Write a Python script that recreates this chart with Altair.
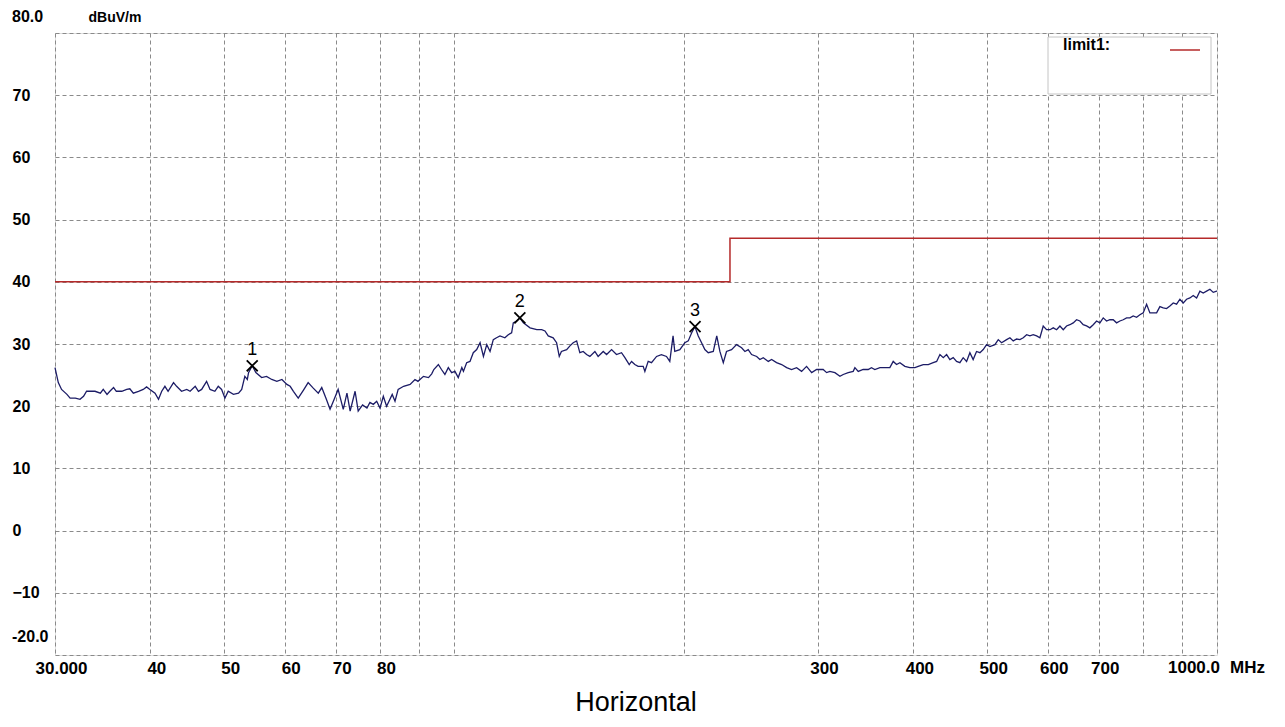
import altair as alt
import pandas as pd

freq = [
    30.0, 30.3, 30.6, 31.1, 31.4, 31.9, 32.35, 32.7, 33.0, 33.3, 33.85, 34.4, 34.7, 35.1, 35.4, 35.8,
    36.1, 36.7, 37.25, 37.6, 38.0, 38.6, 39.15, 39.55, 39.95, 40.57, 41.0, 41.4, 41.8, 42.2, 42.9,
    43.3, 43.95, 44.65, 45.1, 45.8, 46.25, 46.7, 47.4, 47.9, 48.6, 49.1, 49.6, 50.1, 50.6, 51.4,
    52.2, 52.7, 53.2, 53.6, 53.8,
    54.4, 55.0, 55.97, 56.8, 57.7, 58.6, 59.5, 60.4, 61.0, 61.6, 62.5, 63.5, 64.4, 65.4, 66.4, 67.1,
    68.0, 68.8, 69.6, 70.5, 71.6, 72.4, 73.1, 74.2, 74.9, 75.9, 76.9, 77.6, 78.4, 79.2, 80.0, 80.8,
    81.6, 83.0, 83.7, 84.5, 85.9, 87.6, 88.9, 89.7, 91.2, 92.6, 93.5, 94.1, 95.4,
    96.3, 97.3, 98.3, 99.3, 100.3, 101.3, 102.4, 102.9, 103.9, 104.95, 106.0, 107.1, 108.2, 109.3,
    110.4, 111.5, 112.6, 113.7, 114.9, 116.6, 117.8, 119.0, 119.6, 120.8, 122.0, 123.3, 125.8,
    128.4, 130.3, 131.6, 132.9, 134.9, 136.3, 137.4, 138.3, 140.5, 141.9, 143.3, 144.8, 146.2,
    147.7, 149.2, 150.7, 153.0, 154.5, 156.9, 158.5, 160.9, 163.3, 165.8, 167.5, 169.7,
    170.9, 172.6, 174.3, 177.0, 177.9, 179.7, 181.5, 184.3, 187.0, 189.9, 191.8, 193.7, 194.7,
    197.7, 200.7, 202.8, 204.9, 206.9, 209.0, 211.1, 213.2, 215.4, 218.7, 221.0, 223.1, 225.4,
    227.6, 231.1, 234.6, 238.2, 240.6, 243.0, 245.5, 249.3, 251.7, 254.3, 258.2, 260.8, 264.7,
    268.8, 272.9, 277.0, 281.2, 285.5, 289.8, 294.3, 298.7,
    301.7, 304.7, 307.9, 310.9, 315.7, 320.5, 323.7, 328.6, 333.6, 335.3, 338.7, 343.8, 349.0,
    352.5, 356.1, 361.6, 367.1, 372.6, 376.4, 380.2, 384.1, 389.9, 395.8, 401.9, 405.9, 412.1,
    418.4, 424.7, 429.1, 433.4, 437.8, 442.2, 446.6, 451.1, 455.7, 460.3, 464.9, 469.7, 474.4,
    479.1, 484.0, 489.0, 493.9, 498.9, 504.0, 511.6, 516.8, 522.0, 530.0, 535.3,
    540.7, 546.3, 551.7, 557.3, 563.0, 568.6, 574.3, 580.2, 586.0, 591.9, 597.9, 604.0, 610.1,
    616.3, 622.5, 628.8, 635.1, 641.5, 648.0, 654.6, 661.2, 667.8, 674.6, 681.4, 688.3, 695.3,
    702.3, 709.4, 716.6, 723.8, 731.1, 738.6, 746.0, 753.5, 761.2, 768.9, 776.6, 784.5, 792.4,
    800.4, 808.6, 816.7, 824.9, 833.4, 841.7, 850.2, 858.8, 867.5, 876.3, 885.2, 894.1, 903.1,
    912.3, 921.5, 930.8, 940.3, 949.7, 959.2, 969.1, 978.8, 988.8, 998.8, 1000.0,
]
level = [
    26.2, 23.8, 22.7, 21.9, 21.3, 21.3, 21.1, 21.6, 22.4, 22.4, 22.4, 22.1, 22.7, 21.9, 22.4, 23.0,
    22.4, 22.4, 22.7, 22.8, 22.1, 22.4, 22.7, 23.1, 22.7, 22.1, 21.1, 22.4, 23.2, 22.4, 23.8,
    23.2, 22.4, 22.7, 22.4, 23.2, 22.4, 22.7, 24.0, 22.7, 22.4, 23.2, 22.7, 21.3, 22.4, 21.9,
    22.1, 22.7, 24.8, 24.3, 25.4,
    26.5, 25.4, 24.6, 24.8, 24.3, 24.0, 24.3, 23.5, 23.2, 22.4, 21.3, 22.6, 23.8, 22.9, 22.1, 23.0,
    21.2, 19.5, 21.0, 22.7, 19.5, 22.1, 19.2, 22.4, 19.2, 20.2, 19.7, 20.6, 20.3, 20.8, 19.7, 21.6,
    20.0, 21.9, 20.8, 22.7, 23.2, 23.5, 24.3, 24.0, 24.8, 24.6, 25.2, 25.9, 26.7,
    25.9, 25.1, 26.2, 25.4, 25.6, 24.6, 26.2, 25.6, 27.0, 27.2, 28.6, 29.1, 30.2, 28.0,
    29.9, 28.8, 30.7, 31.0, 31.3, 31.0, 31.5, 31.8, 33.4, 33.7, 34.2, 33.4, 32.6,
    32.3, 32.3, 32.1, 31.3, 31.0, 30.2, 28.0, 28.8, 29.1, 29.7, 30.2, 30.5, 28.6,
    28.8, 28.3, 28.0, 28.8, 28.0, 28.8, 28.3, 29.1, 28.3, 28.6, 27.8, 26.7,
    27.2, 26.7, 26.4, 26.4, 25.6, 27.2, 27.0, 28.0, 28.3, 28.0, 27.2, 31.3, 28.8,
    29.1, 30.2, 30.5, 31.8, 32.8, 31.3, 30.2, 29.1, 28.6, 28.8, 31.3, 28.8, 27.0,
    28.8, 29.1, 29.9, 29.4, 28.8, 29.1, 28.3, 28.0, 27.5, 27.8, 27.2, 27.5, 27.0,
    26.7, 26.2, 25.9, 26.2, 25.6, 26.4, 25.4, 25.9,
    25.9, 25.9, 25.4, 25.6, 25.4, 24.8, 25.1, 25.4, 25.6, 26.2, 25.6, 25.9, 25.9,
    26.2, 25.9, 26.2, 26.2, 26.2, 27.2, 26.7, 27.0, 26.4, 26.2, 26.2, 26.4, 26.7,
    26.7, 27.0, 27.2, 28.3, 27.8, 28.3, 27.5, 27.8, 27.2, 27.0, 27.8, 27.2, 28.6,
    27.5, 28.8, 28.6, 29.1, 29.9, 29.6, 29.9, 30.7, 30.2, 30.7, 31.0,
    30.5, 30.8, 30.7, 31.0, 31.5, 31.3, 31.5, 31.3, 31.0, 32.9, 32.3, 32.3, 32.6,
    32.3, 32.9, 32.3, 32.9, 33.1, 33.4, 33.9, 33.7, 33.1, 32.9, 32.6, 33.1, 33.7,
    33.4, 34.2, 33.7, 33.9, 33.9, 33.4, 33.7, 33.9, 34.2, 34.2, 34.5, 34.3, 34.7,
    35.0, 36.4, 35.0, 35.0, 35.0, 36.0, 35.8, 35.7, 36.1, 36.6, 36.4, 37.2, 36.6,
    37.2, 37.4, 37.8, 37.4, 38.5, 38.2, 38.5, 38.8, 38.3, 38.5, 38.5,
]

# ---- limit line ----
limit_freq = [30, 230, 230, 1000]
limit_level = [40, 40, 47, 47]
limit_name = ["limit1", "limit1", "limit1", "limit1"]

# ---- markers ----
marker_freq = [54.4, 122, 207]
marker_level = [26.5, 34.2, 32.8]
marker_label = ["1", "2", "3"]

# ---- axis ticks ----
x_grid_values = [30, 40, 50, 60, 70, 80, 90, 100, 200, 300, 400, 500, 600, 700, 800, 900, 1000]
x_hidden_labels = [90, 100, 200, 800, 900, 1000]
y_grid_values = [-20, -10, 0, 10, 20, 30, 40, 50, 60, 70, 80]
y_top_label = ["80.0"]
y_bottom_label = ["-20.0"]
x_end_label = ["1000.0"]
x_unit = ["MHz"]

FONT = "Liberation Sans"
W, H = 1162, 622

trace_df = pd.DataFrame({"freq": freq, "level": level})
limit_df = pd.DataFrame({"freq": limit_freq, "level": limit_level, "name": limit_name})
marker_df = pd.DataFrame({"freq": marker_freq, "level": marker_level, "label": marker_label})

xscale = alt.Scale(type="log", domain=[30, 1000], nice=False)
yscale = alt.Scale(domain=[-20, 80], nice=False)

hidden = " || ".join(f"datum.value == {v}" for v in x_hidden_labels)
x_label_expr = f"datum.value == 30 ? '30.000' : (({hidden}) ? '' : format(datum.value, 'd'))"

x_axis = alt.Axis(values=x_grid_values, grid=True, gridDash=[4, 3], gridColor="#8a8a8a",
                  gridWidth=1, ticks=False, tickSize=0, domain=False, labelExpr=x_label_expr,
                  labelFont=FONT, labelFontSize=17, labelFontWeight="bold", labelColor="black",
                  labelPadding=5, labelOffset=6, labelOverlap=False, labelFlush=False,
                  labelBound=False, title=None)
y_axis = alt.Axis(values=y_grid_values, grid=True, gridDash=[4, 3], gridColor="#8a8a8a",
                  gridWidth=1, ticks=False, tickSize=0, domain=False,
                  labelExpr="(datum.value == 80 || datum.value == -20) ? '' : format(datum.value, 'd')",
                  labelFont=FONT, labelFontSize=16, labelFontWeight="bold", labelColor="black",
                  labelAlign="left", labelBaseline="middle", labelPadding=43, labelOverlap=False,
                  labelFlush=False, labelBound=False,
                  title="dBuV/m", titleAngle=0, titleX=33, titleY=-16, titleAlign="left",
                  titleBaseline="middle", titleFont=FONT, titleFontSize=14, titleFontWeight="bold",
                  titleColor="black")

trace = alt.Chart(trace_df).mark_line(color="#1c1c66", strokeWidth=1.3).encode(
    x=alt.X("freq:Q", scale=xscale, axis=x_axis),
    y=alt.Y("level:Q", scale=yscale, axis=y_axis),
)

legend_box = alt.Chart(pd.DataFrame({"k": [0]})).mark_rect(
    fill="white", stroke="#c4c4c4", strokeWidth=1
).encode(x=alt.value(993), x2=alt.value(1156), y=alt.value(4), y2=alt.value(61))

limit = alt.Chart(limit_df).mark_line(strokeWidth=1.5).encode(
    x=alt.X("freq:Q", scale=xscale),
    y=alt.Y("level:Q", scale=yscale),
    color=alt.Color("name:N", scale=alt.Scale(range=["#b52a2a"]),
                    legend=alt.Legend(title="limit1:", titleOrient="left", titleAnchor="middle",
                                      titleBaseline="middle", titleFont=FONT, titleFontSize=16,
                                      titleFontWeight="bold", titleColor="black", titlePadding=58,
                                      labelExpr="''", symbolType="stroke", symbolSize=900,
                                      symbolStrokeWidth=1.5, orient="none", legendX=1008,
                                      legendY=1, padding=0)),
)

marks = alt.Chart(marker_df).mark_point(
    shape="M-1,-1L1,1M1,-1L-1,1", size=120, filled=False, stroke="black", strokeWidth=1.8, opacity=1
).encode(x=alt.X("freq:Q", scale=xscale), y=alt.Y("level:Q", scale=yscale))

mark_labels = alt.Chart(marker_df).mark_text(
    dy=-16, fontSize=18, font=FONT, color="black", baseline="middle"
).encode(x=alt.X("freq:Q", scale=xscale), y=alt.Y("level:Q", scale=yscale), text="label:N")

top_lab = alt.Chart(pd.DataFrame({"v": [80], "t": y_top_label})).mark_text(
    align="left", baseline="middle", dy=-16, font=FONT, fontSize=16, fontWeight="bold", color="black"
).encode(x=alt.value(-43), y=alt.Y("v:Q", scale=yscale), text="t:N")

bot_lab = alt.Chart(pd.DataFrame({"v": [-20], "t": y_bottom_label})).mark_text(
    align="left", baseline="middle", dy=-18, font=FONT, fontSize=16, fontWeight="bold", color="black"
).encode(x=alt.value(-43), y=alt.Y("v:Q", scale=yscale), text="t:N")

end_lab = alt.Chart(pd.DataFrame({"f": [1000], "t": x_end_label})).mark_text(
    align="right", baseline="top", dx=3, font=FONT, fontSize=17, fontWeight="bold", color="black"
).encode(x=alt.X("f:Q", scale=xscale), y=alt.value(H + 5), text="t:N")

unit_lab = alt.Chart(pd.DataFrame({"f": [1000], "t": x_unit})).mark_text(
    align="left", baseline="top", dx=13, font=FONT, fontSize=17, fontWeight="bold", color="black"
).encode(x=alt.X("f:Q", scale=xscale), y=alt.value(H + 5), text="t:N")

chart = alt.layer(
    trace, legend_box, limit, marks, mark_labels, top_lab, bot_lab, end_lab, unit_lab
).properties(
    width=W, height=H,
    title=alt.TitleParams("Horizontal", orient="bottom", anchor="middle", fontSize=27,
                          fontWeight="normal", font=FONT, color="black", offset=14),
    padding={"left": 47, "top": 25, "right": 50, "bottom": 70},
    autosize=alt.AutoSizeParams(type="none"),
).configure_view(
    stroke="#808080", strokeWidth=2
).configure(background="white")

chart.save("out.html", embed_options={"renderer": "svg", "actions": False})
